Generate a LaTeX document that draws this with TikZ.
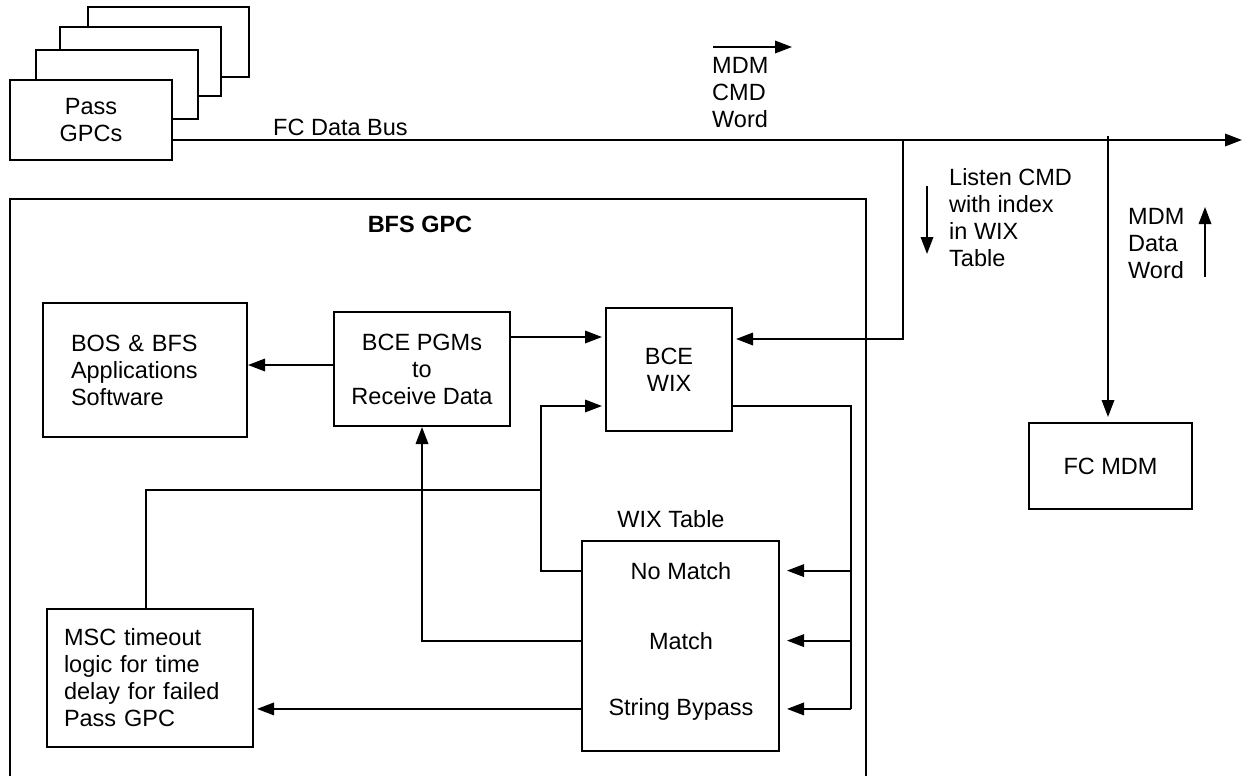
\documentclass[tikz,border=0pt]{standalone}
\usepackage{fontspec}
\setmainfont{Liberation Sans}
\usetikzlibrary{arrows.meta,calc}
\begin{document}
\begin{tikzpicture}[x=1pt,y=-1pt,
  every node/.style={font=\fontsize{23.5}{27}\selectfont},
  box/.style={draw, line width=2pt, fill=white, inner sep=0pt},
  lbl/.style={inner sep=0pt},
  conn/.style={line width=1.8pt},
  arr/.style={conn, -{Triangle[length=17pt,width=12.5pt]}},
]
\useasboundingbox (0,0) rectangle (1242,776);

% stacked Pass GPCs
\node[box, minimum width=161pt, minimum height=70pt] (gpc4) at (168.5,42) {};
\node[box, minimum width=161pt, minimum height=69pt] (gpc3) at (140.5,61.5) {};
\node[box, minimum width=162pt, minimum height=69pt] (gpc2) at (117,84.5) {};
\node[box, minimum width=162pt, minimum height=80pt, align=center] (pass) at (91,120) {Pass\\GPCs};

% BFS GPC frame
\draw[line width=2pt] (10,776) -- (10,199) -- (866,199) -- (866,776);
\node[lbl, anchor=base, font=\fontsize{23.5}{27}\selectfont\bfseries] (bfs) at (420,232) {BFS GPC};

% bus
\coordinate (busend) at (1242,140);
\draw[arr] (pass.east |- busend) -- (busend);
\node[lbl, anchor=base west] (buslbl) at (273,135) {FC Data Bus};

% MDM CMD word
\coordinate (cmdA) at (713,47);
\coordinate (cmdB) at (792,47);
\draw[arr] (cmdA) -- (cmdB);
\node[lbl, anchor=north west, align=left] (cmdtxt) at (712,57.5) {MDM\\CMD\\Word};

% boxes
\node[box, minimum width=204pt, minimum height=134pt, text width=148pt, inner xsep=28pt, align=left] (bos) at (145,370) {BOS \& BFS\\Applications\\Software};
\node[box, minimum width=176pt, minimum height=114pt, align=center] (pgm) at (422,369) {BCE PGMs\\to\\Receive Data};
\node[box, minimum width=126pt, minimum height=123pt, align=center] (wix) at (669,369.5) {BCE\\WIX};
\node[box, minimum width=197pt, minimum height=210pt] (table) at (680.5,646) {};
\node[box, minimum width=206pt, minimum height=138pt, text width=172pt, inner xsep=17pt, align=left] (msc) at (150,678) {MSC timeout\\logic for time\\delay for failed\\Pass GPC};
\node[box, minimum width=163pt, minimum height=86pt] (mdm) at (1110.5,466) {FC MDM};

\node[lbl, anchor=base] (tablelbl) at (671,527) {WIX Table};
\node[lbl, anchor=base] (nomatch) at (681,579) {No Match};
\node[lbl, anchor=base] (match) at (681,649) {Match};
\node[lbl, anchor=base] (bypass) at (681,715) {String Bypass};

% listen command drop
\coordinate (j1) at (903,140);
\draw[arr, shorten >=3pt] (j1) |- ([yshift=30.5pt]wix.east);
\coordinate (ldA) at (927,186);
\coordinate (ldB) at (927,254);
\draw[arr] (ldA) -- (ldB);
\node[lbl, anchor=north west, align=left] (listen) at (949,168.5) {Listen CMD\\with index\\in WIX\\Table};

% MDM branch
\coordinate (j2) at (1108,136);
\draw[arr, shorten >=5pt] (j2) -- (j2 |- mdm.north);
\coordinate (udA) at (1205,277);
\coordinate (udB) at (1205,207);
\draw[arr] (udA) -- (udB);
\node[lbl, anchor=north west, align=left] (datatxt) at (1128,208.5) {MDM\\Data\\Word};

% internal connections
\draw[arr] ([yshift=4pt]pgm.west) -- ([yshift=4pt]pgm.west -| bos.east);
\draw[arr, shorten >=3pt] ([yshift=32pt]pgm.east) -- ([yshift=32pt]pgm.east -| wix.west);

\coordinate (loopc) at (851,709);
\draw[conn] ([yshift=-36.5pt]wix.east) -| (loopc);
\draw[arr, shorten >=7pt] (nomatch -| loopc) -- (nomatch -| table.east);
\draw[arr, shorten >=7pt] (match -| loopc) -- (match -| table.east);
\draw[arr, shorten >=7pt] (bypass -| loopc) -- (bypass -| table.east);

\coordinate (c541) at (541,490);
\draw[arr, shorten >=3pt] (nomatch -| table.west) -| (c541) |- ([yshift=-36.5pt]wix.west);
\draw[conn] ([xshift=-4pt]msc.north) |- (c541);
\draw[arr] (match -| table.west) -| (pgm.south);
\draw[arr, shorten >=3pt] (bypass -| table.west) -- (bypass -| msc.east);
\end{tikzpicture}
\end{document}
